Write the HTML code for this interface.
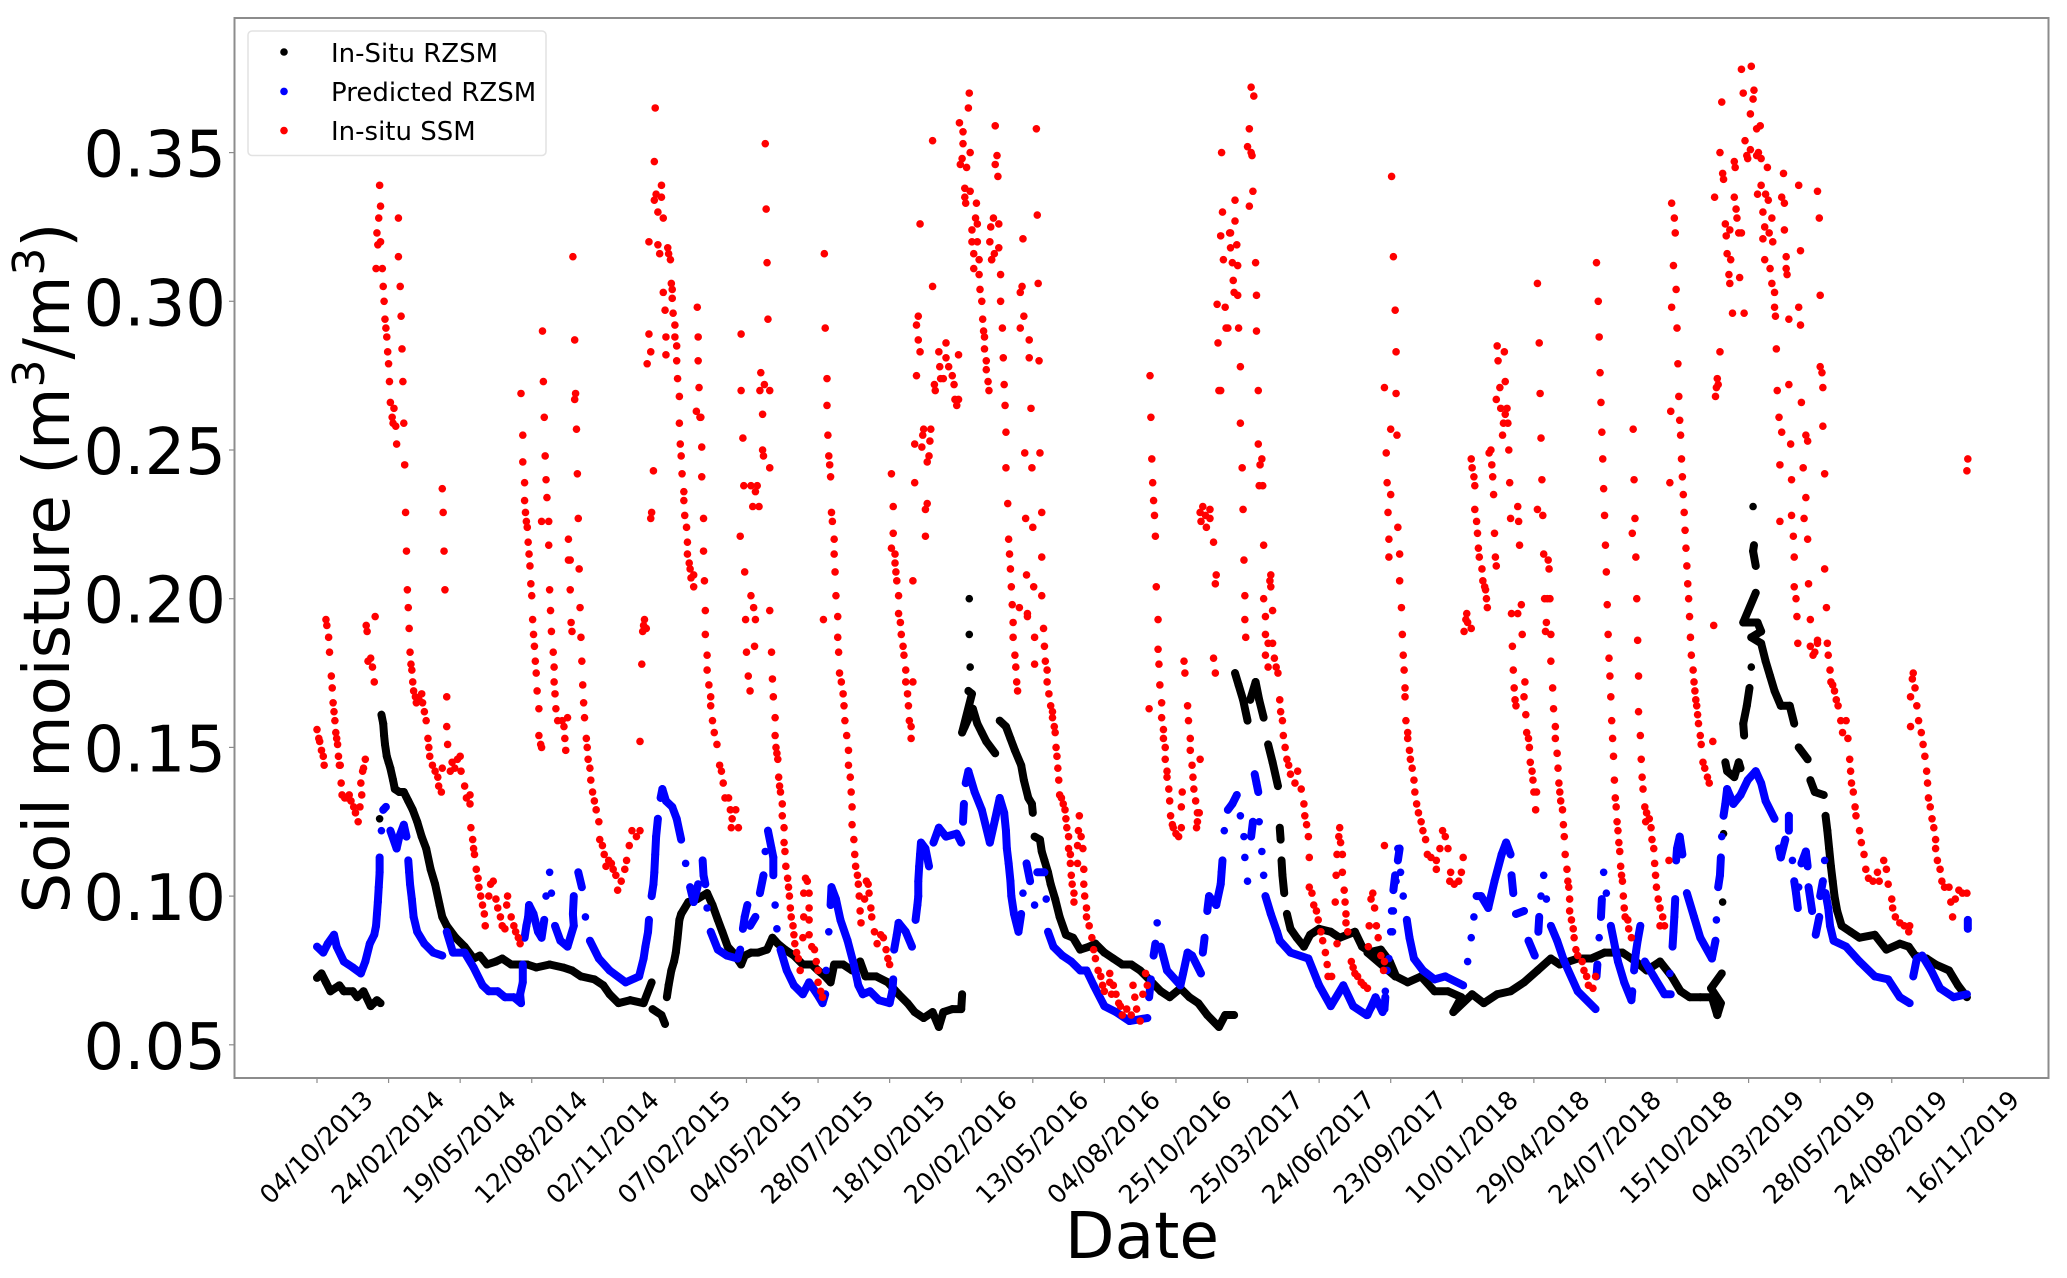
<!DOCTYPE html>
<html lang="en">
<head>
<meta charset="utf-8">
<title>Soil moisture chart</title>
<style>
html,body{margin:0;padding:0;background:#fff}
svg{display:block}
text{font-family:"DejaVu Sans","Liberation Sans",sans-serif;fill:#000}
</style>
</head>
<body>
<svg id="chart" xmlns="http://www.w3.org/2000/svg" width="2067" height="1278" viewBox="0 0 2067 1278">
<rect x="234.5" y="18" width="1814" height="1060" fill="#fff"/>
<g id="marks"></g>
<rect x="234.5" y="18" width="1814" height="1060" fill="none" stroke="#8c8c8c" stroke-width="2"/>
<g id="axes"></g>
<text transform="translate(69,568) rotate(-90)" text-anchor="middle" font-size="64">Soil moisture (m<tspan font-size="44" dy="-25">3</tspan><tspan dy="25">/m</tspan><tspan font-size="44" dy="-25">3</tspan><tspan dy="25">)</tspan></text>
<text x="1142" y="1258" text-anchor="middle" font-size="64.5">Date</text>
<g>
<rect x="248" y="31" width="298" height="124.5" rx="4" fill="#fff" stroke="#e2e2e2" stroke-width="1.5"/>
<circle cx="284" cy="52" r="3.8" fill="#000"/>
<text x="331" y="62" font-size="26">In-Situ RZSM</text>
<circle cx="284" cy="91.4" r="3.8" fill="#0000ff"/>
<text x="331" y="101" font-size="26">Predicted RZSM</text>
<circle cx="284" cy="130.6" r="3.8" fill="#ff0000"/>
<text x="331" y="140" font-size="26">In-situ SSM</text>
</g>
</svg>
<script>
const dateTickLabels=["04/10/2013","24/02/2014","19/05/2014","12/08/2014","02/11/2014","07/02/2015","04/05/2015","28/07/2015","18/10/2015","20/02/2016","13/05/2016","04/08/2016","25/10/2016","25/03/2017","24/06/2017","23/09/2017","10/01/2018","29/04/2018","24/07/2018","15/10/2018","04/03/2019","28/05/2019","24/08/2019","16/11/2019"];
const moistureTicks=[0.05,0.10,0.15,0.20,0.25,0.30,0.35];
const samplesPerTick=80;
const inSituRzsm=[[0,.0725],[5,.074],[10,.071],[15,.068],[25,.07],[30,.068],[40,.068],[45,.066],[52,.068],[60,.063],[67,.065],[71,.064],[70,.126],[72,.161],[74,.158],[75,.154],[76,.151],[78,.147],[80,.145],[82,.143],[85,.139],[87,.136],[92,.135],[97,.135],[102,.132],[107,.129],[112,.125],[117,.12],[122,.116],[127,.109],[132,.104],[137,.097],[140,.093],[145,.09],[155,.086],[165,.083],[175,.079],[182,.08],[190,.077],[200,.078],[207,.079],[217,.077],[235,.077],[245,.076],[260,.077],[275,.076],[285,.075],[295,.073],[310,.072],[320,.07],[327,.067],[337,.064],[350,.065],[365,.064],[374,.071],[375,.062],[385,.06],[389,.057],[391,.066],[393,.07],[396,.075],[399,.078],[401,.081],[403,.086],[405,.092],[407,.094],[415,.098],[425,.099],[436,.101],[442,.097],[448,.092],[453,.088],[459,.083],[465,.081],[474,.077],[478,.08],[485,.081],[493,.081],[503,.082],[509,.086],[515,.084],[523,.082],[533,.08],[543,.077],[553,.077],[560,.075],[568,.073],[574,.071],[578,.077],[588,.077],[598,.075],[607,.078],[613,.073],[625,.073],[638,.071],[650,.067],[660,.064],[668,.061],[678,.059],[688,.061],[695,.056],[700,.061],[710,.062],[720,.062],[721,.067],[729,.2],[729,.188],[730,.177],[728,.169],[732,.168],[721,.155],[724,.157],[733,.163],[738,.158],[743,.155],[748,.152],[758,.148],[763,.159],[770,.157],[775,.153],[780,.149],[787,.144],[790,.139],[795,.133],[799,.131],[800,.128],[802,.12],[808,.119],[810,.115],[813,.112],[817,.108],[820,.104],[825,.099],[830,.093],[837,.087],[845,.086],[853,.082],[863,.083],[870,.084],[880,.081],[890,.079],[900,.077],[910,.077],[920,.075],[930,.072],[943,.068],[953,.066],[965,.069],[975,.066],[985,.064],[995,.06],[1008,.056],[1015,.06],[1025,.06],[1026,.175],[1030,.171],[1035,.166],[1040,.159],[1043,.166],[1049,.172],[1053,.166],[1058,.16],[1063,.151],[1068,.145],[1074,.137],[1076,.123],[1077,.119],[1078,.112],[1079,.107],[1081,.101],[1084,.094],[1088,.089],[1095,.086],[1103,.083],[1110,.087],[1120,.089],[1133,.088],[1143,.086],[1160,.088],[1168,.083],[1178,.081],[1188,.079],[1198,.077],[1205,.073],[1174,.081],[1189,.082],[1199,.078],[1206,.073],[1219,.071],[1234,.073],[1249,.068],[1264,.068],[1279,.066],[1270,.061],[1291,.067],[1304,.064],[1319,.067],[1334,.068],[1349,.071],[1364,.075],[1379,.079],[1389,.077],[1409,.079],[1424,.079],[1439,.081],[1459,.081],[1474,.078],[1486,.075],[1501,.078],[1514,.073],[1524,.068],[1534,.066],[1546,.066],[1559,.066],[1565,.06],[1569,.064],[1558,.069],[1570,.074],[1571,.098],[1572,.121],[1574,.145],[1576,.142],[1584,.14],[1589,.145],[1591,.143],[1595,.154],[1594,.158],[1598,.164],[1601,.17],[1603,.177],[1605,.231],[1606,.218],[1605,.216],[1608,.211],[1608,.202],[1594,.192],[1610,.192],[1614,.189],[1603,.187],[1614,.185],[1619,.179],[1624,.174],[1629,.169],[1636,.164],[1646,.164],[1651,.158],[1656,.15],[1666,.146],[1669,.139],[1674,.135],[1684,.134],[1686,.127],[1688,.122],[1690,.116],[1692,.11],[1694,.105],[1696,.1],[1699,.095],[1704,.09],[1714,.088],[1724,.086],[1741,.087],[1754,.082],[1769,.084],[1779,.083],[1786,.08],[1799,.079],[1809,.077],[1824,.075],[1834,.07],[1844,.066]];
const predictedRzsm=[[0,.083],[7,.081],[12,.084],[19,.087],[22,.083],[30,.078],[40,.076],[49,.074],[54,.078],[59,.084],[64,.087],[66,.09],[67,.094],[68,.098],[69,.103],[70,.108],[70,.113],[72,.122],[74,.129],[77,.13],[82,.122],[89,.116],[92,.12],[97,.124],[100,.12],[102,.112],[103,.108],[104,.104],[106,.099],[108,.093],[112,.088],[120,.084],[130,.081],[140,.08],[145,.088],[152,.081],[165,.081],[175,.076],[185,.07],[192,.068],[202,.068],[210,.066],[220,.066],[228,.064],[227,.067],[230,.071],[230,.077],[232,.086],[234,.09],[236,.093],[237,.097],[242,.094],[247,.088],[251,.086],[254,.092],[256,.1],[260,.108],[262,.101],[266,.09],[272,.085],[280,.083],[287,.09],[286,.094],[287,.1],[292,.108],[296,.103],[300,.093],[305,.085],[315,.079],[327,.075],[345,.071],[360,.073],[365,.079],[367,.083],[370,.088],[371,.092],[374,.1],[376,.104],[377,.108],[378,.114],[379,.12],[381,.126],[384,.133],[386,.136],[390,.132],[397,.13],[402,.126],[407,.119],[412,.111],[417,.103],[421,.098],[426,.104],[431,.112],[432,.107],[434,.104],[436,.096],[440,.088],[448,.082],[458,.08],[470,.079],[473,.082],[476,.089],[478,.093],[481,.097],[484,.09],[490,.093],[495,.101],[499,.107],[501,.115],[504,.122],[508,.116],[510,.113],[510,.107],[512,.097],[514,.089],[518,.082],[525,.075],[533,.07],[543,.067],[550,.071],[559,.067],[565,.064],[568,.067],[569,.075],[572,.088],[574,.097],[575,.103],[580,.099],[585,.092],[593,.085],[600,.077],[605,.07],[610,.067],[618,.068],[628,.065],[640,.064],[643,.068],[644,.072],[645,.082],[648,.087],[650,.091],[658,.088],[665,.083],[669,.092],[671,.097],[672,.1],[672,.105],[673,.11],[674,.114],[675,.118],[680,.116],[684,.11],[689,.118],[695,.123],[703,.12],[715,.121],[720,.118],[722,.125],[723,.131],[725,.138],[728,.142],[735,.135],[743,.129],[752,.118],[758,.126],[763,.133],[768,.128],[770,.122],[771,.116],[773,.111],[775,.105],[776,.1],[779,.094],[784,.088],[787,.094],[789,.101],[793,.111],[797,.105],[802,.097],[805,.108],[813,.108],[815,.099],[817,.088],[823,.083],[833,.08],[843,.078],[853,.075],[860,.075],[868,.07],[880,.063],[893,.061],[908,.058],[928,.059],[930,.066],[932,.072],[935,.08],[937,.084],[939,.091],[943,.083],[950,.075],[965,.07],[968,.074],[973,.081],[978,.08],[988,.074],[990,.081],[992,.086],[995,.095],[997,.1],[1005,.097],[1010,.104],[1011,.108],[1012,.112],[1014,.122],[1018,.129],[1023,.131],[1028,.134],[1032,.127],[1036,.12],[1037,.113],[1040,.105],[1044,.12],[1046,.125],[1048,.141],[1050,.138],[1052,.135],[1053,.125],[1056,.115],[1058,.107],[1060,.1],[1066,.094],[1073,.088],[1076,.085],[1088,.081],[1108,.079],[1120,.07],[1133,.063],[1147,.07],[1158,.063],[1173,.06],[1183,.065],[1193,.062],[1194,.066],[1198,.079],[1202,.088],[1203,.095],[1206,.105],[1208,.112],[1210,.116],[1174,.06],[1183,.066],[1191,.061],[1194,.068],[1196,.075],[1200,.088],[1201,.095],[1203,.102],[1205,.107],[1208,.116],[1211,.108],[1214,.1],[1218,.092],[1221,.086],[1226,.079],[1236,.075],[1249,.072],[1261,.073],[1281,.07],[1286,.078],[1290,.086],[1293,.093],[1296,.1],[1301,.1],[1309,.096],[1316,.105],[1324,.114],[1329,.118],[1334,.114],[1335,.107],[1337,.101],[1340,.094],[1349,.095],[1354,.085],[1361,.08],[1365,.088],[1366,.093],[1368,.1],[1371,.107],[1374,.099],[1379,.09],[1386,.085],[1394,.078],[1409,.068],[1429,.062],[1430,.073],[1431,.077],[1433,.086],[1435,.093],[1436,.099],[1438,.108],[1441,.101],[1446,.09],[1454,.078],[1461,.071],[1469,.065],[1470,.068],[1472,.075],[1474,.081],[1476,.085],[1479,.09],[1484,.078],[1494,.073],[1506,.067],[1513,.067],[1512,.074],[1515,.083],[1516,.088],[1517,.093],[1518,.099],[1519,.112],[1520,.116],[1523,.12],[1526,.114],[1531,.101],[1539,.093],[1546,.086],[1559,.079],[1563,.085],[1564,.092],[1566,.103],[1568,.107],[1569,.113],[1570,.12],[1572,.127],[1574,.131],[1576,.136],[1583,.131],[1591,.134],[1599,.139],[1608,.142],[1614,.138],[1619,.132],[1629,.126],[1634,.116],[1636,.113],[1641,.119],[1645,.127],[1645,.122],[1649,.112],[1651,.105],[1653,.101],[1655,.096],[1656,.103],[1659,.111],[1664,.115],[1666,.11],[1667,.103],[1669,.099],[1671,.095],[1675,.087],[1679,.093],[1680,.1],[1683,.105],[1685,.112],[1686,.101],[1689,.096],[1691,.09],[1695,.085],[1709,.083],[1724,.078],[1741,.073],[1756,.072],[1769,.066],[1780,.064],[1784,.073],[1788,.079],[1794,.08],[1804,.075],[1814,.069],[1829,.066],[1844,.067],[1845,.089],[1845,.092]];
const inSituSsm=[[0,.156],[2,.153],[3,.152],[5,.149],[7,.147],[8,.144],[10,.193],[11,.191],[13,.187],[14,.182],[16,.174],[17,.17],[18,.165],[19,.162],[20,.159],[21,.155],[22,.153],[23,.151],[24,.147],[25,.144],[26,.144],[27,.138],[28,.134],[31,.133],[34,.133],[36,.134],[38,.132],[41,.13],[43,.128],[46,.125],[48,.13],[50,.134],[49,.138],[51,.142],[52,.143],[54,.146],[55,.191],[56,.189],[65,.194],[57,.179],[60,.18],[62,.177],[64,.172],[70,.339],[71,.332],[69,.328],[67,.323],[68,.319],[71,.32],[66,.311],[73,.311],[74,.305],[75,.3],[76,.294],[77,.291],[78,.288],[79,.283],[80,.279],[81,.273],[82,.266],[86,.264],[84,.261],[85,.259],[88,.258],[89,.252],[98,.245],[99,.229],[100,.216],[101,.203],[102,.197],[103,.19],[91,.328],[91,.315],[93,.305],[94,.295],[95,.284],[96,.273],[97,.259],[104,.182],[105,.178],[106,.176],[107,.172],[108,.169],[110,.167],[111,.165],[114,.166],[117,.168],[118,.165],[120,.162],[122,.159],[124,.153],[125,.15],[126,.147],[129,.144],[132,.142],[135,.14],[136,.137],[139,.135],[140,.143],[145,.167],[145,.157],[146,.151],[140,.237],[141,.229],[142,.216],[143,.203],[151,.145],[149,.142],[154,.143],[157,.146],[160,.147],[161,.142],[165,.137],[167,.133],[171,.134],[171,.131],[172,.123],[174,.119],[175,.116],[176,.114],[178,.109],[180,.106],[181,.103],[183,.1],[185,.097],[187,.094],[188,.09],[194,.104],[197,.105],[192,.1],[200,.099],[202,.096],[205,.093],[207,.09],[210,.089],[213,.1],[212,.097],[217,.093],[220,.09],[222,.088],[225,.086],[227,.084],[228,.269],[230,.255],[230,.246],[232,.239],[232,.233],[233,.229],[234,.226],[235,.224],[236,.219],[237,.215],[238,.211],[239,.205],[240,.201],[241,.193],[242,.188],[243,.184],[244,.179],[245,.175],[246,.169],[248,.163],[248,.154],[250,.151],[251,.15],[252,.29],[253,.273],[254,.261],[255,.248],[256,.24],[257,.234],[251,.226],[259,.226],[259,.218],[260,.203],[261,.196],[262,.189],[264,.182],[265,.177],[265,.172],[266,.168],[267,.163],[269,.159],[274,.159],[280,.16],[276,.157],[277,.153],[278,.149],[286,.315],[288,.287],[289,.269],[288,.267],[290,.257],[291,.242],[292,.227],[281,.22],[281,.213],[283,.213],[293,.21],[283,.203],[294,.197],[284,.192],[285,.189],[295,.187],[296,.179],[297,.171],[298,.165],[299,.16],[301,.153],[302,.15],[303,.146],[305,.143],[306,.139],[308,.135],[310,.132],[312,.129],[315,.125],[316,.119],[319,.117],[321,.114],[323,.11],[326,.112],[329,.111],[331,.109],[334,.107],[336,.102],[340,.105],[344,.109],[346,.112],[349,.117],[352,.122],[357,.12],[361,.122],[361,.152],[363,.178],[366,.193],[365,.191],[364,.189],[368,.19],[371,.32],[369,.279],[371,.289],[373,.283],[373,.227],[374,.229],[376,.243],[377,.347],[378,.365],[377,.334],[379,.336],[381,.33],[385,.335],[385,.339],[387,.328],[381,.319],[383,.316],[392,.318],[393,.316],[395,.314],[387,.303],[396,.306],[397,.304],[397,.301],[389,.297],[398,.296],[400,.292],[390,.288],[400,.288],[402,.285],[390,.282],[402,.28],[403,.274],[405,.268],[405,.259],[406,.252],[407,.248],[408,.242],[410,.236],[410,.233],[411,.228],[413,.224],[414,.219],[414,.215],[416,.212],[417,.21],[418,.207],[421,.208],[421,.204],[425,.298],[426,.288],[426,.28],[427,.271],[424,.263],[428,.261],[429,.261],[430,.251],[430,.241],[432,.227],[432,.216],[433,.206],[434,.196],[434,.188],[436,.181],[436,.176],[438,.171],[440,.167],[440,.164],[442,.159],[444,.155],[447,.151],[450,.144],[452,.142],[454,.138],[456,.133],[460,.133],[462,.129],[468,.129],[464,.126],[463,.123],[471,.123],[474,.289],[474,.27],[476,.254],[473,.221],[478,.209],[485,.201],[488,.197],[479,.193],[490,.193],[506,.196],[496,.276],[500,.272],[495,.27],[506,.27],[498,.262],[498,.25],[499,.248],[506,.244],[477,.238],[485,.238],[492,.238],[490,.236],[487,.231],[494,.231],[501,.353],[502,.331],[503,.313],[504,.294],[480,.182],[482,.174],[484,.169],[489,.184],[508,.182],[509,.173],[510,.167],[512,.16],[512,.154],[513,.15],[514,.148],[515,.146],[516,.14],[517,.137],[518,.135],[520,.131],[520,.127],[522,.123],[522,.118],[523,.115],[524,.11],[526,.106],[527,.103],[528,.1],[529,.096],[530,.093],[532,.09],[533,.087],[534,.084],[536,.081],[538,.079],[540,.075],[546,.106],[548,.105],[544,.101],[550,.101],[550,.096],[544,.093],[550,.092],[543,.086],[550,.087],[553,.083],[556,.082],[558,.078],[560,.075],[560,.071],[563,.068],[565,.066],[567,.316],[568,.291],[570,.274],[570,.265],[571,.255],[572,.248],[573,.245],[574,.241],[575,.229],[576,.226],[578,.22],[578,.215],[579,.209],[580,.201],[566,.193],[582,.194],[582,.187],[583,.182],[584,.175],[586,.172],[588,.168],[589,.164],[590,.159],[592,.154],[594,.149],[594,.144],[596,.14],[597,.135],[598,.13],[598,.124],[600,.119],[601,.114],[602,.11],[604,.107],[605,.104],[606,.1],[607,.095],[608,.091],[614,.105],[616,.104],[617,.101],[612,.099],[619,.096],[620,.093],[623,.088],[626,.084],[630,.087],[633,.086],[636,.082],[638,.079],[640,.077],[642,.242],[644,.231],[644,.222],[642,.217],[646,.215],[646,.212],[647,.209],[648,.206],[666,.206],[650,.201],[650,.195],[652,.192],[653,.188],[655,.184],[656,.181],[658,.176],[658,.172],[666,.172],[660,.168],[661,.164],[662,.159],[664,.157],[664,.153],[668,.239],[680,.221],[680,.23],[682,.232],[682,.246],[684,.248],[668,.252],[676,.251],[685,.253],[678,.257],[677,.255],[686,.257],[670,.275],[674,.283],[672,.287],[670,.292],[672,.295],[688,.305],[674,.326],[688,.354],[703,.286],[695,.283],[717,.282],[703,.281],[696,.278],[706,.278],[710,.275],[712,.272],[700,.274],[690,.272],[691,.27],[697,.274],[713,.267],[717,.267],[715,.265],[729,.37],[728,.365],[718,.36],[722,.357],[722,.353],[730,.35],[721,.348],[719,.346],[726,.345],[724,.338],[730,.337],[724,.335],[725,.333],[737,.333],[736,.328],[738,.326],[732,.324],[732,.32],[738,.32],[734,.316],[740,.314],[734,.311],[740,.309],[741,.304],[743,.3],[744,.294],[745,.29],[746,.288],[746,.284],[748,.28],[748,.277],[750,.273],[751,.27],[758,.359],[760,.349],[758,.346],[761,.342],[756,.328],[762,.326],[753,.325],[752,.32],[762,.318],[757,.316],[754,.314],[754,.314],[764,.309],[764,.3],[766,.291],[767,.281],[768,.272],[769,.265],[770,.256],[770,.244],[772,.232],[773,.22],[774,.215],[775,.21],[776,.204],[777,.198],[778,.192],[778,.187],[780,.181],[781,.177],[782,.172],[783,.169],[804,.358],[805,.329],[806,.306],[789,.321],[788,.305],[786,.303],[790,.295],[786,.291],[796,.287],[796,.281],[807,.28],[798,.264],[791,.249],[808,.249],[799,.244],[810,.229],[792,.227],[800,.224],[810,.214],[793,.208],[801,.204],[810,.201],[785,.197],[794,.195],[794,.194],[812,.19],[802,.187],[802,.178],[813,.184],[814,.179],[816,.176],[816,.172],[818,.168],[820,.164],[822,.162],[822,.16],[824,.157],[825,.155],[826,.15],[827,.147],[828,.143],[829,.139],[830,.134],[832,.133],[834,.131],[836,.129],[837,.126],[838,.123],[840,.12],[840,.116],[842,.114],[842,.111],[843,.107],[844,.104],[846,.101],[846,.098],[852,.127],[851,.122],[854,.12],[850,.117],[856,.116],[850,.111],[857,.109],[857,.104],[858,.1],[860,.096],[860,.093],[863,.09],[866,.086],[868,.082],[870,.079],[873,.075],[876,.073],[878,.07],[880,.068],[886,.074],[886,.071],[890,.07],[888,.067],[893,.067],[896,.064],[898,.063],[900,.06],[905,.062],[910,.06],[916,.062],[920,.058],[912,.07],[914,.066],[923,.067],[926,.074],[928,.07],[931,.275],[932,.261],[933,.247],[934,.239],[935,.233],[936,.228],[937,.221],[938,.204],[940,.193],[940,.183],[941,.178],[942,.171],[944,.165],[944,.16],[946,.156],[946,.153],[948,.15],[948,.146],[950,.142],[950,.14],[952,.136],[953,.132],[954,.127],[956,.124],[957,.123],[960,.121],[963,.12],[966,.123],[930,.163],[967,.135],[966,.13],[969,.179],[970,.175],[973,.164],[974,.159],[976,.153],[976,.149],[978,.144],[979,.14],[980,.136],[982,.132],[984,.128],[986,.128],[984,.125],[983,.123],[987,.146],[990,.231],[998,.23],[987,.229],[993,.228],[988,.226],[998,.227],[994,.224],[1002,.219],[1005,.208],[1004,.205],[1011,.35],[1012,.33],[1010,.322],[1020,.323],[1021,.323],[1026,.327],[1026,.334],[1028,.319],[1021,.318],[1013,.314],[1023,.313],[1029,.312],[1024,.307],[1025,.303],[1029,.302],[1006,.299],[1015,.298],[1016,.291],[1018,.291],[1030,.291],[1007,.286],[1032,.278],[1008,.27],[1010,.27],[1032,.259],[1034,.244],[1035,.23],[1036,.213],[1037,.201],[1037,.193],[1038,.187],[1044,.372],[1047,.369],[1042,.358],[1040,.352],[1044,.35],[1045,.349],[1046,.337],[1042,.332],[1049,.313],[1050,.302],[1050,.29],[1052,.27],[1052,.252],[1056,.247],[1054,.245],[1053,.238],[1057,.238],[1058,.218],[1066,.208],[1065,.206],[1066,.204],[1058,.2],[1068,.196],[1060,.194],[1060,.188],[1002,.18],[1004,.175],[1068,.185],[1063,.185],[1060,.181],[1063,.177],[1070,.18],[1072,.177],[1074,.175],[1076,.166],[1077,.162],[1079,.159],[1080,.154],[1082,.15],[1084,.146],[1086,.144],[1088,.141],[1096,.142],[1093,.138],[1100,.136],[1103,.131],[1104,.127],[1106,.124],[1108,.12],[1109,.113],[1109,.103],[1112,.101],[1114,.097],[1117,.095],[1119,.092],[1122,.088],[1124,.085],[1127,.081],[1129,.077],[1130,.073],[1134,.073],[1143,.123],[1142,.12],[1144,.118],[1140,.114],[1146,.114],[1146,.108],[1139,.107],[1148,.102],[1138,.098],[1149,.098],[1150,.094],[1150,.091],[1152,.088],[1140,.084],[1156,.078],[1158,.076],[1160,.074],[1163,.073],[1167,.071],[1170,.07],[1174,.069],[1193,.117],[1180,.101],[1178,.099],[1182,.096],[1176,.09],[1184,.09],[1175,.083],[1186,.086],[1189,.08],[1193,.078],[1192,.075],[1201,.342],[1203,.315],[1205,.297],[1206,.283],[1193,.271],[1206,.269],[1200,.257],[1207,.255],[1195,.249],[1196,.239],[1200,.235],[1197,.229],[1208,.224],[1198,.22],[1210,.215],[1198,.214],[1210,.206],[1212,.197],[1213,.188],[1214,.181],[1215,.176],[1216,.17],[1216,.167],[1217,.159],[1219,.155],[1219,.153],[1221,.149],[1222,.146],[1224,.143],[1226,.139],[1227,.135],[1229,.131],[1231,.128],[1234,.125],[1236,.122],[1239,.119],[1241,.114],[1245,.113],[1251,.112],[1251,.109],[1255,.116],[1258,.122],[1261,.12],[1264,.116],[1267,.108],[1266,.105],[1271,.104],[1276,.105],[1279,.108],[1281,.113],[1290,.247],[1291,.244],[1293,.241],[1294,.238],[1294,.23],[1296,.226],[1297,.222],[1298,.217],[1299,.214],[1302,.21],[1303,.206],[1305,.204],[1306,.203],[1307,.2],[1308,.197],[1285,.195],[1284,.193],[1286,.192],[1282,.189],[1290,.19],[1319,.285],[1327,.283],[1320,.28],[1328,.273],[1322,.271],[1318,.267],[1323,.264],[1330,.264],[1328,.262],[1326,.259],[1331,.259],[1325,.255],[1332,.25],[1310,.249],[1312,.25],[1313,.245],[1314,.241],[1333,.239],[1315,.235],[1316,.222],[1342,.231],[1334,.227],[1343,.226],[1344,.218],[1317,.214],[1318,.211],[1346,.198],[1335,.195],[1342,.195],[1347,.188],[1336,.184],[1337,.176],[1338,.17],[1350,.172],[1349,.167],[1339,.166],[1340,.164],[1351,.161],[1352,.155],[1354,.153],[1355,.15],[1356,.145],[1358,.142],[1359,.139],[1360,.135],[1363,.135],[1362,.129],[1364,.306],[1366,.286],[1367,.269],[1364,.23],[1368,.254],[1369,.24],[1370,.228],[1371,.215],[1376,.213],[1377,.21],[1372,.2],[1375,.2],[1378,.2],[1374,.192],[1373,.189],[1379,.188],[1379,.179],[1381,.17],[1382,.163],[1384,.157],[1384,.153],[1386,.148],[1387,.143],[1388,.138],[1389,.135],[1390,.132],[1392,.129],[1393,.124],[1394,.12],[1395,.114],[1397,.109],[1398,.105],[1399,.103],[1400,.099],[1400,.095],[1402,.092],[1404,.089],[1405,.086],[1407,.082],[1409,.08],[1414,.078],[1416,.075],[1419,.073],[1421,.07],[1426,.069],[1429,.073],[1430,.313],[1432,.3],[1433,.288],[1434,.276],[1435,.266],[1436,.256],[1437,.247],[1438,.237],[1439,.228],[1440,.218],[1441,.209],[1442,.198],[1443,.188],[1444,.18],[1445,.174],[1446,.167],[1447,.159],[1448,.153],[1449,.147],[1450,.139],[1451,.133],[1452,.13],[1453,.125],[1454,.122],[1455,.118],[1456,.115],[1457,.11],[1458,.107],[1459,.105],[1460,.1],[1461,.096],[1462,.093],[1465,.092],[1466,.089],[1469,.086],[1471,.257],[1472,.24],[1473,.227],[1470,.222],[1474,.214],[1475,.2],[1476,.186],[1477,.174],[1477,.162],[1479,.154],[1480,.146],[1481,.14],[1482,.136],[1484,.13],[1486,.128],[1489,.126],[1485,.125],[1491,.123],[1492,.119],[1494,.116],[1495,.111],[1496,.107],[1497,.103],[1499,.099],[1501,.096],[1504,.093],[1501,.09],[1506,.09],[1511,.112],[1514,.333],[1517,.328],[1518,.323],[1516,.312],[1519,.304],[1514,.298],[1520,.291],[1521,.279],[1522,.268],[1513,.263],[1523,.26],[1524,.255],[1525,.247],[1526,.241],[1512,.239],[1527,.235],[1528,.229],[1529,.223],[1530,.217],[1531,.211],[1532,.205],[1533,.2],[1534,.194],[1535,.187],[1536,.181],[1538,.176],[1539,.172],[1540,.169],[1541,.166],[1542,.164],[1543,.161],[1544,.158],[1546,.154],[1547,.151],[1549,.145],[1551,.143],[1554,.14],[1556,.138],[1560,.152],[1561,.191],[1563,.268],[1564,.271],[1566,.272],[1565,.274],[1568,.283],[1570,.367],[1568,.35],[1562,.335],[1571,.343],[1572,.341],[1574,.326],[1579,.324],[1575,.322],[1576,.316],[1580,.314],[1578,.309],[1579,.306],[1582,.296],[1595,.296],[1592,.378],[1603,.379],[1594,.37],[1606,.371],[1605,.368],[1602,.363],[1613,.359],[1609,.358],[1596,.354],[1602,.351],[1598,.349],[1611,.35],[1599,.348],[1609,.349],[1614,.348],[1584,.347],[1585,.345],[1621,.345],[1639,.343],[1656,.339],[1677,.337],[1614,.339],[1610,.336],[1584,.335],[1619,.336],[1637,.335],[1622,.334],[1640,.333],[1586,.331],[1616,.33],[1626,.328],[1587,.328],[1679,.328],[1618,.325],[1640,.324],[1623,.323],[1592,.323],[1589,.323],[1616,.321],[1627,.32],[1658,.317],[1618,.314],[1642,.315],[1624,.311],[1642,.311],[1643,.309],[1590,.308],[1626,.306],[1629,.303],[1680,.302],[1629,.298],[1656,.298],[1630,.295],[1645,.294],[1658,.292],[1631,.284],[1680,.278],[1682,.276],[1645,.272],[1632,.27],[1683,.271],[1659,.266],[1634,.261],[1637,.256],[1664,.255],[1683,.258],[1666,.253],[1647,.252],[1635,.245],[1661,.244],[1685,.242],[1648,.24],[1664,.234],[1648,.228],[1635,.226],[1662,.227],[1650,.221],[1666,.22],[1651,.214],[1685,.21],[1667,.205],[1651,.204],[1653,.2],[1687,.197],[1654,.194],[1669,.193],[1677,.186],[1655,.185],[1669,.184],[1677,.185],[1674,.182],[1672,.181],[1688,.185],[1689,.181],[1691,.176],[1692,.172],[1694,.171],[1696,.169],[1698,.166],[1700,.164],[1703,.159],[1709,.159],[1705,.155],[1711,.153],[1713,.146],[1714,.142],[1715,.138],[1717,.135],[1719,.13],[1720,.127],[1724,.122],[1726,.118],[1729,.114],[1731,.109],[1734,.106],[1739,.105],[1744,.108],[1746,.105],[1751,.112],[1754,.109],[1756,.104],[1760,.099],[1761,.096],[1764,.093],[1769,.091],[1774,.09],[1779,.088],[1780,.09],[1784,.175],[1783,.173],[1786,.17],[1781,.167],[1788,.164],[1781,.157],[1790,.159],[1793,.155],[1795,.151],[1797,.147],[1799,.142],[1800,.138],[1801,.133],[1803,.13],[1805,.126],[1807,.123],[1809,.119],[1809,.116],[1811,.112],[1814,.109],[1816,.105],[1819,.103],[1824,.103],[1826,.098],[1828,.093],[1831,.099],[1835,.102],[1839,.101],[1844,.101],[1845,.247],[1844,.243]];

const NS='http://www.w3.org/2000/svg';
const xOrigin=317, xPerTick=71.58, yAt005=1044.8, yPerUnit=2974;
function xScale(sample){return xOrigin+sample/samplesPerTick*xPerTick;}
function yScale(value){return yAt005-(value-0.05)*yPerUnit;}
const marks=document.getElementById('marks');
const axes=document.getElementById('axes');

function drawBand(points,color){
  for(let i=1;i<points.length;i++){
    const dx=Math.abs(xScale(points[i][0])-xScale(points[i-1][0]));
    const dy=Math.abs(yScale(points[i][1])-yScale(points[i-1][1]));
    const dist=Math.hypot(dx,dy);
    if((dist<=60&&dy<=5*dx)||dist<=20){
      const seg=document.createElementNS(NS,'line');
      
      
      seg.setAttribute('x1',xScale(points[i-1][0]));
      seg.setAttribute('y1',yScale(points[i-1][1]));
      seg.setAttribute('x2',xScale(points[i][0]));
      seg.setAttribute('y2',yScale(points[i][1]));
      seg.setAttribute('stroke',color);
      seg.setAttribute('stroke-width','8');
      seg.setAttribute('stroke-linecap','round');
      marks.appendChild(seg);
    }
  }
}
function drawDots(points,color,name){
  for(const p of points){
    const dot=document.createElementNS(NS,'circle');
    
    
    dot.setAttribute('cx',xScale(p[0]));
    dot.setAttribute('cy',yScale(p[1]));
    dot.setAttribute('r','3.8');
    dot.setAttribute('fill',color);
    marks.appendChild(dot);
  }
}
drawBand(inSituRzsm,'#000');
drawDots(inSituRzsm,'#000','in-situ-rzsm-point');
drawBand(predictedRzsm,'#0000ff');
drawDots(predictedRzsm,'#0000ff','predicted-rzsm-point');
drawDots(inSituSsm,'#ff0000','in-situ-ssm-point');

dateTickLabels.forEach(function(label,i){
  const x=xScale(i*samplesPerTick);
  const tick=document.createElementNS(NS,'line');
  
  
  tick.setAttribute('x1',x);
  tick.setAttribute('x2',x);
  tick.setAttribute('y1',1078);
  tick.setAttribute('y2',1083);
  tick.setAttribute('stroke','#8c8c8c');
  tick.setAttribute('stroke-width','1.2');
  axes.appendChild(tick);
  const t=document.createElementNS(NS,'text');
  
  
  t.setAttribute('transform','translate('+(x-1)+',1147) rotate(-45)');
  t.setAttribute('text-anchor','middle');
  t.setAttribute('dy','0.36em');
  t.setAttribute('font-size','25.5');
  t.textContent=label;
  axes.appendChild(t);
});
moistureTicks.forEach(function(v){
  const y=yScale(v);
  const tick=document.createElementNS(NS,'line');
  
  
  tick.setAttribute('x1',229);
  tick.setAttribute('x2',234);
  tick.setAttribute('y1',y);
  tick.setAttribute('y2',y);
  tick.setAttribute('stroke','#8c8c8c');
  tick.setAttribute('stroke-width','1.2');
  axes.appendChild(tick);
  const t=document.createElementNS(NS,'text');
  
  
  t.setAttribute('x',226);
  t.setAttribute('y',y+24);
  t.setAttribute('text-anchor','end');
  t.setAttribute('font-size','64');
  t.textContent=v.toFixed(2);
  axes.appendChild(t);
});
</script>
</body>
</html>
